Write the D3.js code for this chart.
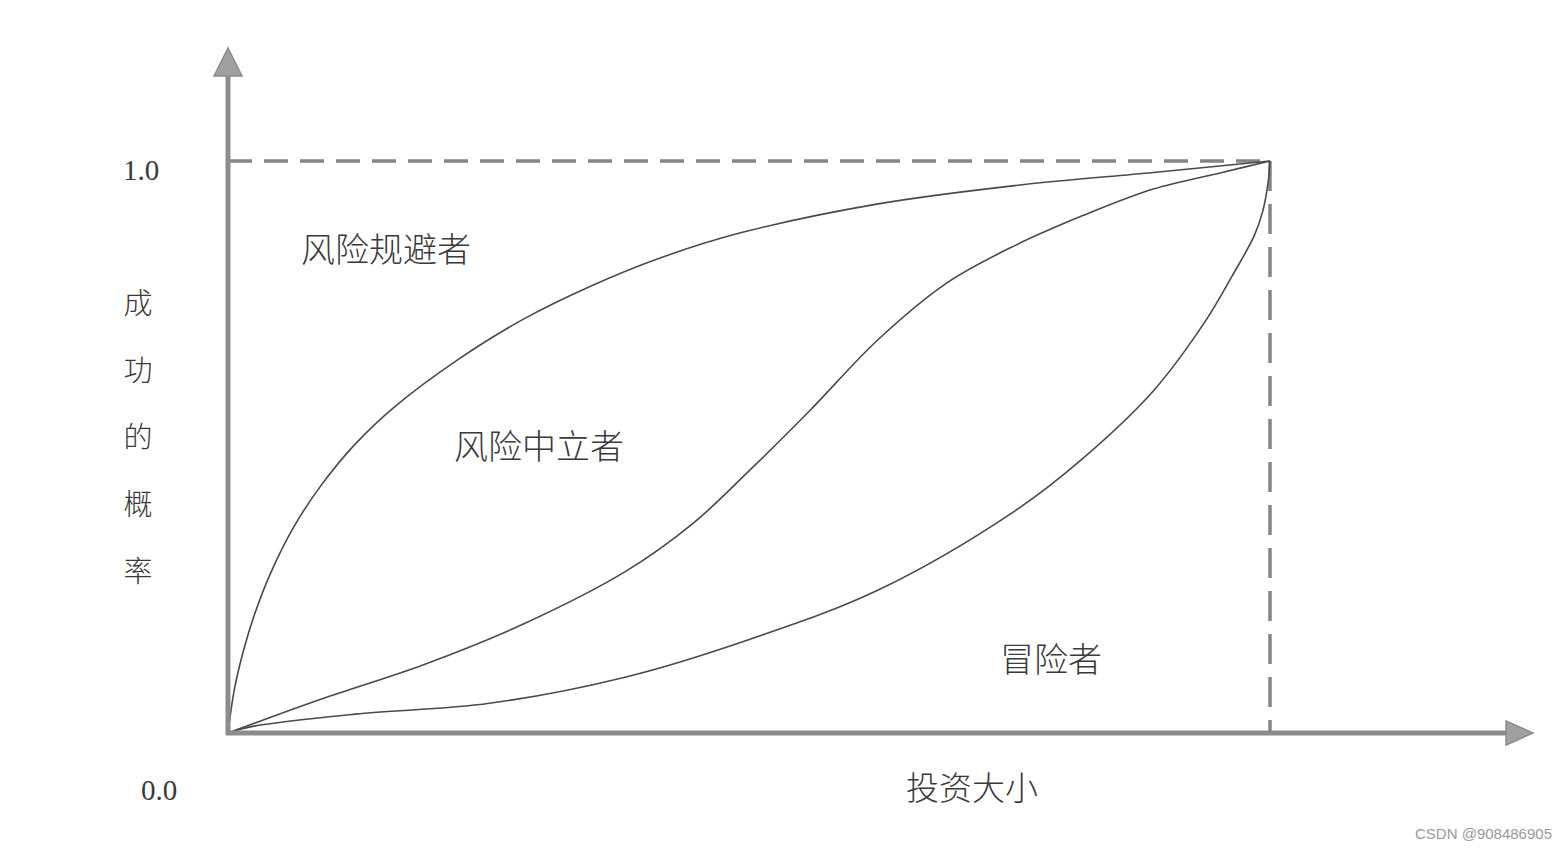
<!DOCTYPE html>
<html>
<head>
<meta charset="utf-8">
<script src="https://cdn.jsdelivr.net/npm/d3@7"></script>
<style>
html,body{margin:0;padding:0;background:#fff;}
svg{display:block;}
</style>
</head>
<body>
<svg id="chart" width="1566" height="852"></svg>
<script>
// ---- data (normalised: investment size 0..1, probability 0..1) ----
const riskAverseX = [0, 0.006, 0.015, 0.025, 0.041, 0.063, 0.089, 0.122, 0.161, 0.220, 0.284, 0.349, 0.414, 0.491, 0.624, 0.755, 0.888, 1];
const riskAverseY = [0, 0.075, 0.145, 0.205, 0.280, 0.360, 0.432, 0.505, 0.572, 0.652, 0.724, 0.782, 0.830, 0.874, 0.925, 0.957, 0.980, 1];
const riskNeutralX = [0, 0.089, 0.187, 0.284, 0.382, 0.446, 0.501, 0.558, 0.624, 0.690, 0.755, 0.821, 0.888, 0.954, 1];
const riskNeutralY = [0, 0.059, 0.119, 0.191, 0.283, 0.366, 0.460, 0.563, 0.688, 0.787, 0.852, 0.905, 0.951, 0.980, 1];
const riskTakerX = [0, 0.025, 0.122, 0.251, 0.382, 0.501, 0.624, 0.755, 0.821, 0.888, 0.938, 0.964, 0.985, 0.993, 0.998, 1];
const riskTakerY = [0, 0.012, 0.033, 0.052, 0.098, 0.164, 0.250, 0.388, 0.481, 0.598, 0.720, 0.800, 0.870, 0.912, 0.960, 1];
const yTickValues = [0, 1];
const yTickLabels = ["0.0", "1.0"];
const yAxisTitle = ["成", "功", "的", "概", "率"];
const xAxisTitle = "投资大小";
const seriesLabels = ["风险规避者", "风险中立者", "冒险者"];
const watermark = "CSDN @908486905";

const svg = d3.select("#chart");
const x = d3.scaleLinear().domain([0, 1]).range([228, 1270]);
const y = d3.scaleLinear().domain([0, 1]).range([733, 161]);

const axisColor = "#8c8c8c";
const lineColor = "#4a4a4a";
const serif = "'Liberation Serif','DejaVu Serif',serif";
const cjk = "'Noto Sans CJK SC','Noto Sans CJK JP',sans-serif";

// dashed reference lines at probability 1 and max investment
svg.append("line")
  .attr("x1", x(0)).attr("x2", x(1))
  .attr("y1", y(1)).attr("y2", y(1))
  .attr("stroke", "#858585").attr("stroke-width", 3.5)
  .attr("stroke-dasharray", "24,12");
svg.append("line")
  .attr("x1", x(1)).attr("x2", x(1))
  .attr("y1", y(1)).attr("y2", y(0))
  .attr("stroke", "#858585").attr("stroke-width", 3.5)
  .attr("stroke-dasharray", "30,13");

// curves
const line = d3.line().x(d => x(d[0])).y(d => y(d[1])).curve(d3.curveCatmullRom.alpha(0.5));
const series = [
  d3.zip(riskAverseX, riskAverseY),
  d3.zip(riskNeutralX, riskNeutralY),
  d3.zip(riskTakerX, riskTakerY)
];
svg.selectAll("path.curve").data(series).join("path")
  .attr("class", "curve")
  .attr("d", line)
  .attr("fill", "none")
  .attr("stroke", lineColor)
  .attr("stroke-width", 1.6);

// axes with arrows
svg.append("line")
  .attr("x1", x(0)).attr("x2", x(0))
  .attr("y1", y(0) + 2).attr("y2", 72)
  .attr("stroke", axisColor).attr("stroke-width", 5);
svg.append("path")
  .attr("d", d3.line()([[x(0) - 14, 76], [x(0), 48], [x(0) + 14, 76]]) + "Z")
  .attr("fill", "#a0a0a0").attr("stroke", axisColor).attr("stroke-width", 1.5);
svg.append("line")
  .attr("x1", x(0) - 2).attr("x2", 1510)
  .attr("y1", y(0)).attr("y2", y(0))
  .attr("stroke", axisColor).attr("stroke-width", 5);
svg.append("path")
  .attr("d", d3.line()([[1506, y(0) - 12], [1533, y(0)], [1506, y(0) + 12]]) + "Z")
  .attr("fill", "#a0a0a0").attr("stroke", axisColor).attr("stroke-width", 1.5);

// tick labels
svg.append("text")
  .attr("x", 141).attr("y", y(1) + 19)
  .attr("text-anchor", "middle")
  .attr("font-family", serif).attr("font-size", 29).attr("fill", "#3a3a3a")
  .text(yTickLabels[1]);
svg.append("text")
  .attr("x", 159).attr("y", 800)
  .attr("text-anchor", "middle")
  .attr("font-family", serif).attr("font-size", 29).attr("fill", "#3a3a3a")
  .text(yTickLabels[0]);

// y title (vertical characters)
svg.selectAll("text.ytitle").data(yAxisTitle).join("text")
  .attr("class", "ytitle")
  .attr("x", 138)
  .attr("y", (d, i) => 314 + i * 67)
  .attr("text-anchor", "middle")
  .attr("font-family", cjk).attr("font-size", 29).attr("font-weight", 300)
  .attr("fill", "#3a3a3a")
  .text(d => d);

// x title
svg.append("text")
  .attr("x", 972).attr("y", 800)
  .attr("text-anchor", "middle")
  .attr("font-family", cjk).attr("font-size", 33).attr("font-weight", 300)
  .attr("fill", "#3a3a3a")
  .text(xAxisTitle);

// series labels
const labelPos = [[386, 262], [539, 459], [1051, 672]];
svg.selectAll("text.slabel").data(seriesLabels).join("text")
  .attr("class", "slabel")
  .attr("x", (d, i) => labelPos[i][0])
  .attr("y", (d, i) => labelPos[i][1])
  .attr("text-anchor", "middle")
  .attr("font-family", cjk).attr("font-size", 34).attr("font-weight", 300)
  .attr("fill", "#3a3a3a")
  .text(d => d);

// watermark
svg.append("text")
  .attr("x", 1552).attr("y", 839)
  .attr("text-anchor", "end")
  .attr("font-family", "'Liberation Sans',Arial,sans-serif").attr("font-size", 15)
  .attr("fill", "#9a9a9a")
  .text(watermark);
</script>
</body>
</html>
